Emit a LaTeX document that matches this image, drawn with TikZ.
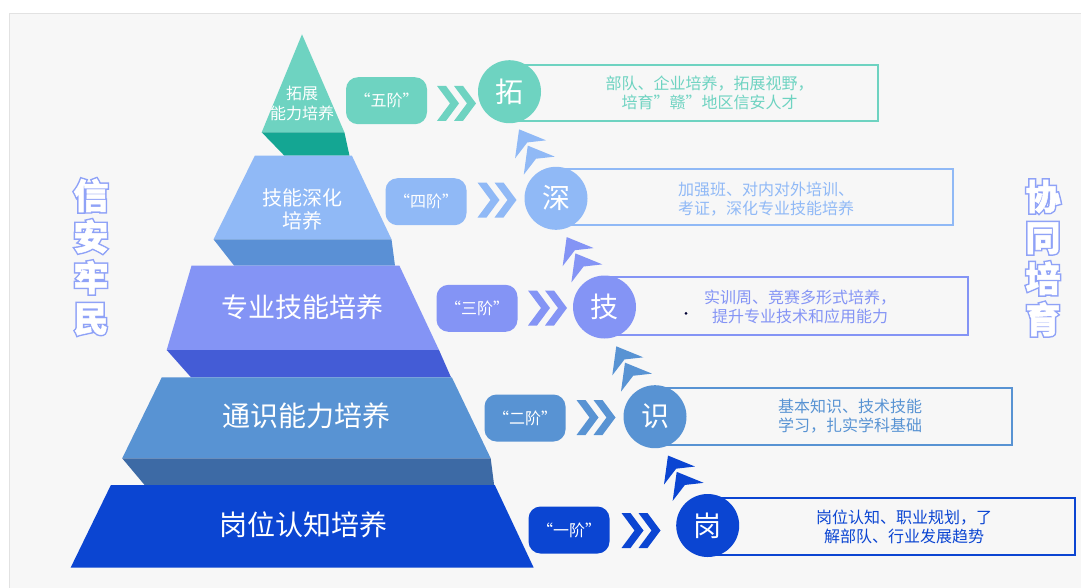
\documentclass[tikz,border=0pt]{standalone}
\usepackage{fontspec}
\setmainfont{Noto Sans CJK SC}
\newfontfamily\titlecore{Noto Sans CJK SC}[FakeBold=1.5]
\newfontfamily\titleouter{Noto Sans CJK SC}[FakeBold=10]
\usetikzlibrary{calc}
\definecolor{tealA}{HTML}{6ED3C1}
\definecolor{tealB}{HTML}{14A693}
\definecolor{lbA}{HTML}{90B9F6}
\definecolor{lbB}{HTML}{5A90D5}
\definecolor{puA}{HTML}{8494F5}
\definecolor{puB}{HTML}{445CD6}
\definecolor{mbA}{HTML}{5893D3}
\definecolor{mbB}{HTML}{3D6AA5}
\definecolor{dbA}{HTML}{0B45D2}
\definecolor{panelc}{HTML}{F7F7F7}
\definecolor{panelb}{HTML}{E2E2E2}
\definecolor{outl}{HTML}{8FA2F7}
\tikzset{
  stage/.style={rounded corners=12pt, minimum width=81pt, minimum height=47pt, inner sep=0pt, text=white, font=\fontsize{16}{16}\selectfont},
  circ/.style={circle, minimum size=63pt, inner sep=0pt, text=white, font=\fontsize{28}{28}\selectfont},
  descbox/.style={line width=2pt},
  desc/.style={align=center, inner sep=0pt, font=\fontsize{16}{19}\selectfont},
  layertext/.style={text=white, align=center, inner sep=0pt},
  sidetitle/.style={align=center, inner sep=0pt},
  rchev/.pic={
    \fill (-19.5,-17.5) -- (-10.5,-17.5) -- (2.5,0) -- (-10.5,17.5) -- (-19.5,17.5) -- (-6.5,0) -- cycle;
    \fill (-2.5,-17.5) -- (6.5,-17.5) -- (19.5,0) -- (6.5,17.5) -- (-2.5,17.5) -- (10.5,0) -- cycle;
  },
  uchev/.pic={
    \fill (-16,-21) -- (11,-10) -- (-7.8,-7.9) -- (-20,8) -- cycle;
    \fill (-7.3,-4.7) -- (19.7,6.3) -- (0.9,8.4) -- (-11.3,24.3) -- cycle;
  }
}
\begin{document}
\begin{tikzpicture}[x=1pt,y=-1pt]
% background and panel
\fill[white] (0,0) rectangle (1081,587);
\useasboundingbox (0,0) rectangle (1081,587);
\filldraw[fill=panelc, draw=panelb, line width=0.8pt] (9.5,13.5) rectangle (1085,592);

% pyramid
\fill[tealA] (302,34.3) -- (344.4,132.3) -- (261.7,132.3) -- cycle;
\fill[tealB] (261.7,132.3) -- (344.4,132.3) -- (349.5,155.7) -- (284.4,155.7) -- cycle;
\fill[lbA] (254.8,155.7) -- (351.9,155.7) -- (391.5,239.3) -- (213.5,239.3) -- cycle;
\fill[lbB] (213.5,239.3) -- (391.5,239.3) -- (395,265.7) -- (234.2,265.7) -- cycle;
\fill[puA] (191.5,265.7) -- (399.4,265.7) -- (439,350) -- (166.7,350) -- cycle;
\fill[puB] (166.7,350) -- (439,350) -- (451,377.3) -- (191,377.3) -- cycle;
\fill[mbA] (161.8,377.3) -- (451.8,377.3) -- (490.7,458.3) -- (122.2,458.3) -- cycle;
\fill[mbB] (122.2,458.3) -- (490.7,458.3) -- (494.1,485) -- (144.6,485) -- cycle;
\fill[dbA] (110.9,485) -- (494.8,485) -- (533.7,567.7) -- (70.6,567.7) -- cycle;

\node[layertext, font=\fontsize{16}{20}\selectfont] (L5) at (302,103.3) {拓展\\能力培养};
\node[layertext, font=\fontsize{20}{23}\selectfont] (L4) at (302,209) {技能深化\\培养};
\node[layertext, font=\fontsize{27}{27}\selectfont] (L3) at (302,307) {专业技能培养};
\node[layertext, font=\fontsize{28}{28}\selectfont] (L2) at (306,416) {通识能力培养};
\node[layertext, font=\fontsize{28}{28}\selectfont] (L1) at (303,525) {岗位认知培养};

% stage boxes
\node[stage, fill=tealA] (S5) at (386.5,100.7) {“五阶”};
\node[stage, fill=lbA] (S4) at (426,201.7) {“四阶”};
\node[stage, fill=puA] (S3) at (477,308.3) {“三阶”};
\node[stage, fill=mbA] (S2) at (525,418) {“二阶”};
\node[stage, fill=dbA] (S1) at (569,530) {“一阶”};

% right chevrons
\pic[fill=tealA] at (456.5,103.4) {rchev};
\pic[fill=lbA] at (497,200) {rchev};
\pic[fill=puA] at (547.5,308) {rchev};
\pic[fill=mbA] at (596,417.5) {rchev};
\pic[fill=dbA] at (641,530.5) {rchev};

% description boxes
\draw[descbox, draw=tealA] (509.5,65) rectangle (878,120.7);
\draw[descbox, draw=lbA] (556,169.3) rectangle (953,225);
\draw[descbox, draw=puA] (604.5,277.3) rectangle (968,335);
\draw[descbox, draw=mbA] (655,388.3) rectangle (1012,445);
\draw[descbox, draw=dbA] (707.7,497.7) rectangle (1075,555);

% circles
\node[circ, fill=tealA] (C5) at (509.5,91.7) {拓};
\node[circ, fill=lbA] (C4) at (556,198.3) {深};
\node[circ, fill=puA] (C3) at (604.5,307) {技};
\node[circ, fill=mbA] (C2) at (655,416.7) {识};
\node[circ, fill=dbA] (C1) at (707.7,525.5) {岗};

% description texts
\node[desc, text=tealA] (D5) at (709.5,92.5) {部队、企业培养，拓展视野，\\培育”赣”地区信安人才};
\node[desc, text=lbA] (D4) at (766,199) {加强班、对内对外培训、\\考证，深化专业技能培养};
\node[desc, text=puA] (D3) at (800,307) {实训周、竞赛多形式培养，\\提升专业技术和应用能力};
\node[desc, text=mbA] (D2) at (850,416) {基本知识、技术技能\\学习，扎实学科基础};
\node[desc, text=dbA] (D1) at (904,527) {岗位认知、职业规划，了\\解部队、行业发展趋势};
\fill[black!80!blue] (686,313.3) circle (1.5pt);

% upward chevrons
\pic[fill=lbA] at ($(C5)!0.55!(C4)$) {uchev};
\pic[fill=puA] at ($(C4)!0.55!(C3)$) {uchev};
\pic[fill=mbA] at ($(C3)!0.55!(C2)$) {uchev};
\pic[fill=dbA] at ($(C2)!0.55!(C1)$) {uchev};

% side titles (outlined)
\node[sidetitle, text=outl, font=\fontsize{35}{41}\selectfont\titleouter\bfseries] (TLo) at (91,257) {信\\安\\牢\\民};
\node[sidetitle, text=white, font=\fontsize{35}{41}\selectfont\titlecore\bfseries] (TL) at (91,257) {信\\安\\牢\\民};
\node[sidetitle, text=outl, font=\fontsize{35}{41}\selectfont\titleouter\bfseries] (TRo) at (1043,258) {协\\同\\培\\育};
\node[sidetitle, text=white, font=\fontsize{35}{41}\selectfont\titlecore\bfseries] (TR) at (1043,258) {协\\同\\培\\育};
\end{tikzpicture}
\end{document}
